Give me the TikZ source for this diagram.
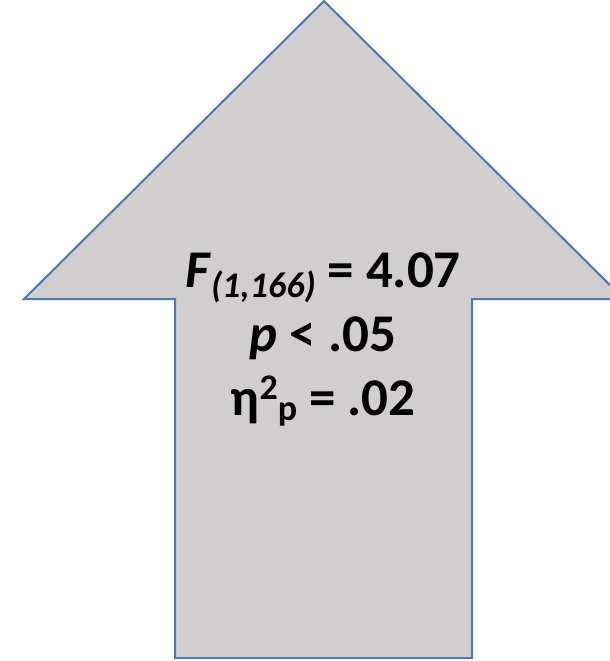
\documentclass[tikz,border=0pt]{standalone}
\usepackage{fontspec}
\setmainfont{Carlito}
\definecolor{arrowfill}{RGB}{208,206,206}
\definecolor{arrowline}{RGB}{74,122,176}
\tikzset{
  arrowshape/.style={fill=arrowfill, draw=arrowline, line width=2pt, line join=miter},
  stat/.style={anchor=base, inner sep=0pt, font=\fontsize{53}{64}\selectfont\bfseries}
}
\newcommand{\smallstat}{\fontsize{36}{36}\selectfont}
\begin{document}
\begin{tikzpicture}[x=1pt,y=-1pt]
\useasboundingbox (0,0) rectangle (610,661);
\clip (0,0) rectangle (610,661);
\draw[arrowshape] (324,1) -- (624,299) -- (472,299) -- (472,658) -- (175,658) -- (175,299) -- (24,299) -- cycle;
\node[stat] (fstat) at (323,287) {\textit{F}\raisebox{-0.2em}{\smallstat\itshape (1,166)} = 4.07};
\node[stat] (pval) at (323,351) {\textit{p} < .05};
\node[stat] (eta) at (323,415) {η\raisebox{0.3em}{\smallstat 2}\raisebox{-0.1em}{\smallstat p} = .02};
\end{tikzpicture}
\end{document}
